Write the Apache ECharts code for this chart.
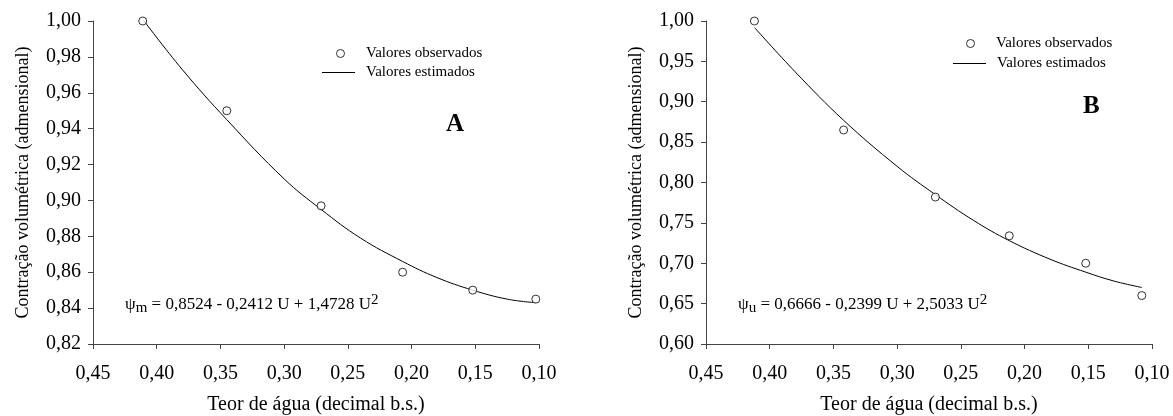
<!DOCTYPE html>
<html>
<head>
<meta charset="utf-8">
<script src="https://cdn.jsdelivr.net/npm/echarts@6/dist/echarts.min.js"></script>
<style>
  html, body { margin: 0; padding: 0; background: #fff; }
  #main { width: 1173px; height: 416px; }
</style>
</head>
<body>
<div id="main"></div>
<script>
// observed points (teor de água, contração)
const obsA_x = [0.411, 0.345, 0.271, 0.207, 0.152, 0.1025];
const obsA_y = [1.000, 0.950, 0.897, 0.860, 0.850, 0.845];
const obsB_x = [0.412, 0.342, 0.270, 0.212, 0.152, 0.108];
const obsB_y = [1.000, 0.865, 0.782, 0.734, 0.700, 0.660];

// fitted curve
const estA_x = [0.411, 0.38, 0.345, 0.30, 0.271, 0.24, 0.207, 0.18, 0.152, 0.125, 0.1025];
const estA_y = [1.001, 0.973, 0.945, 0.912, 0.895, 0.879, 0.866, 0.857, 0.850, 0.845, 0.843];
const estB_x = [0.412, 0.38, 0.342, 0.30, 0.270, 0.24, 0.212, 0.18, 0.152, 0.13, 0.108];
const estB_y = [0.992, 0.937, 0.877, 0.820, 0.785, 0.753, 0.728, 0.705, 0.689, 0.678, 0.670];

const xTicks = { min: 0.10, max: 0.45, step: 0.05 };
const yTicksA = { min: 0.82, max: 1.00, step: 0.02 };
const yTicksB = { min: 0.60, max: 1.00, step: 0.05 };

const pairs = (xs, ys) => xs.map((x, i) => [x, ys[i]]);
const fmt = v => v.toFixed(2).replace('.', ',');
const font = 'Liberation Serif, Times New Roman, serif';
const axisColor = '#444';

const myChart = echarts.init(document.getElementById('main'));

const xAxisFor = idx => ({
  gridIndex: idx,
  type: 'value',
  inverse: true,
  min: xTicks.min,
  max: xTicks.max,
  interval: xTicks.step,
  name: 'Teor de água (decimal b.s.)',
  nameLocation: 'middle',
  nameGap: 51,
  nameTextStyle: { fontFamily: font, fontSize: 20, color: '#000' },
  axisLine: { show: true, lineStyle: { color: axisColor, width: 1 } },
  axisTick: { show: true, length: 5, lineStyle: { color: axisColor } },
  axisLabel: { formatter: fmt, fontFamily: font, fontSize: 20, color: '#000', margin: 20 },
  splitLine: { show: false }
});

const yAxisFor = (idx, t) => ({
  gridIndex: idx,
  type: 'value',
  min: t.min,
  max: t.max,
  interval: t.step,
  name: 'Contração volumétrica (admensional)',
  nameLocation: 'middle',
  nameGap: 61,
  nameTextStyle: { fontFamily: font, fontSize: 18, color: '#000' },
  axisLine: { show: true, lineStyle: { color: axisColor, width: 1 } },
  axisTick: { show: true, length: 5, lineStyle: { color: axisColor } },
  axisLabel: { formatter: fmt, fontFamily: font, fontSize: 20, color: '#000', margin: 12 },
  splitLine: { show: false }
});

const scatterFor = (idx, data) => ({
  name: 'Valores observados',
  type: 'scatter',
  xAxisIndex: idx,
  yAxisIndex: idx,
  symbol: 'circle',
  symbolSize: 8,
  itemStyle: { color: '#fff', borderColor: '#000', borderWidth: 1 },
  data: data,
  z: 3
});

const lineFor = (idx, data) => ({
  name: 'Valores estimados',
  type: 'line',
  xAxisIndex: idx,
  yAxisIndex: idx,
  smooth: 0.4,
  symbol: 'none',
  lineStyle: { color: '#000', width: 1 },
  itemStyle: { color: '#000' },
  data: data,
  z: 2
});

// one legend per entry so the circle and the line can have their own icon size
const legendObs = (left, top) => ({
  left: left,
  top: top,
  itemWidth: 33,
  itemHeight: 8,
  selectedMode: false,
  itemStyle: { color: '#fff', borderColor: '#000', borderWidth: 1 },
  textStyle: { fontFamily: font, fontSize: 15, color: '#000', padding: [0, 0, 0, 4] },
  data: [{ name: 'Valores observados', icon: 'circle' }]
});
const legendEst = (left, top) => ({
  left: left,
  top: top,
  itemWidth: 33,
  itemHeight: 1,
  selectedMode: false,
  itemStyle: { color: '#000', borderWidth: 0 },
  textStyle: { fontFamily: font, fontSize: 15, color: '#000', padding: [0, 0, 0, 6] },
  data: [{ name: 'Valores estimados', icon: 'rect' }]
});

const eqRich = {
  t: { fontFamily: font, fontSize: 17, color: '#000' },
  s: { fontFamily: font, fontSize: 15, color: '#000', verticalAlign: 'bottom', padding: [8, 0, 0, 0] },
  p: { fontFamily: font, fontSize: 15, color: '#000', verticalAlign: 'top', padding: [0, 0, 6, 0] }
};

const option = {
  animation: false,
  grid: [
    { left: 93, top: 21, width: 446, height: 323, outerBoundsMode: 'none' },
    { left: 706, top: 21, width: 446, height: 323, outerBoundsMode: 'none' }
  ],
  xAxis: [xAxisFor(0), xAxisFor(1)],
  yAxis: [yAxisFor(0, yTicksA), yAxisFor(1, yTicksB)],
  legend: [
    legendObs(331, 41), legendEst(317, 60),
    legendObs(961, 31), legendEst(948, 51)
  ],
  series: [
    scatterFor(0, pairs(obsA_x, obsA_y)),
    lineFor(0, pairs(estA_x, estA_y)),
    scatterFor(1, pairs(obsB_x, obsB_y)),
    lineFor(1, pairs(estB_x, estB_y))
  ],
  graphic: [
    { type: 'text', left: 446, top: 112, style: { text: 'A', fontFamily: font, fontSize: 25, fontWeight: 'bold', fill: '#000' } },
    { type: 'text', left: 1083, top: 94, style: { text: 'B', fontFamily: font, fontSize: 25, fontWeight: 'bold', fill: '#000' } },
    {
      type: 'text', left: 125, top: 293,
      style: { rich: eqRich, text: '{t|ψ}{s|m}{t| = 0,8524 - 0,2412 U + 1,4728 U}{p|2}' }
    },
    {
      type: 'text', left: 738, top: 293,
      style: { rich: eqRich, text: '{t|ψ}{s|u}{t| = 0,6666 - 0,2399 U + 2,5033 U}{p|2}' }
    }
  ]
};

myChart.setOption(option);
</script>
</body>
</html>
